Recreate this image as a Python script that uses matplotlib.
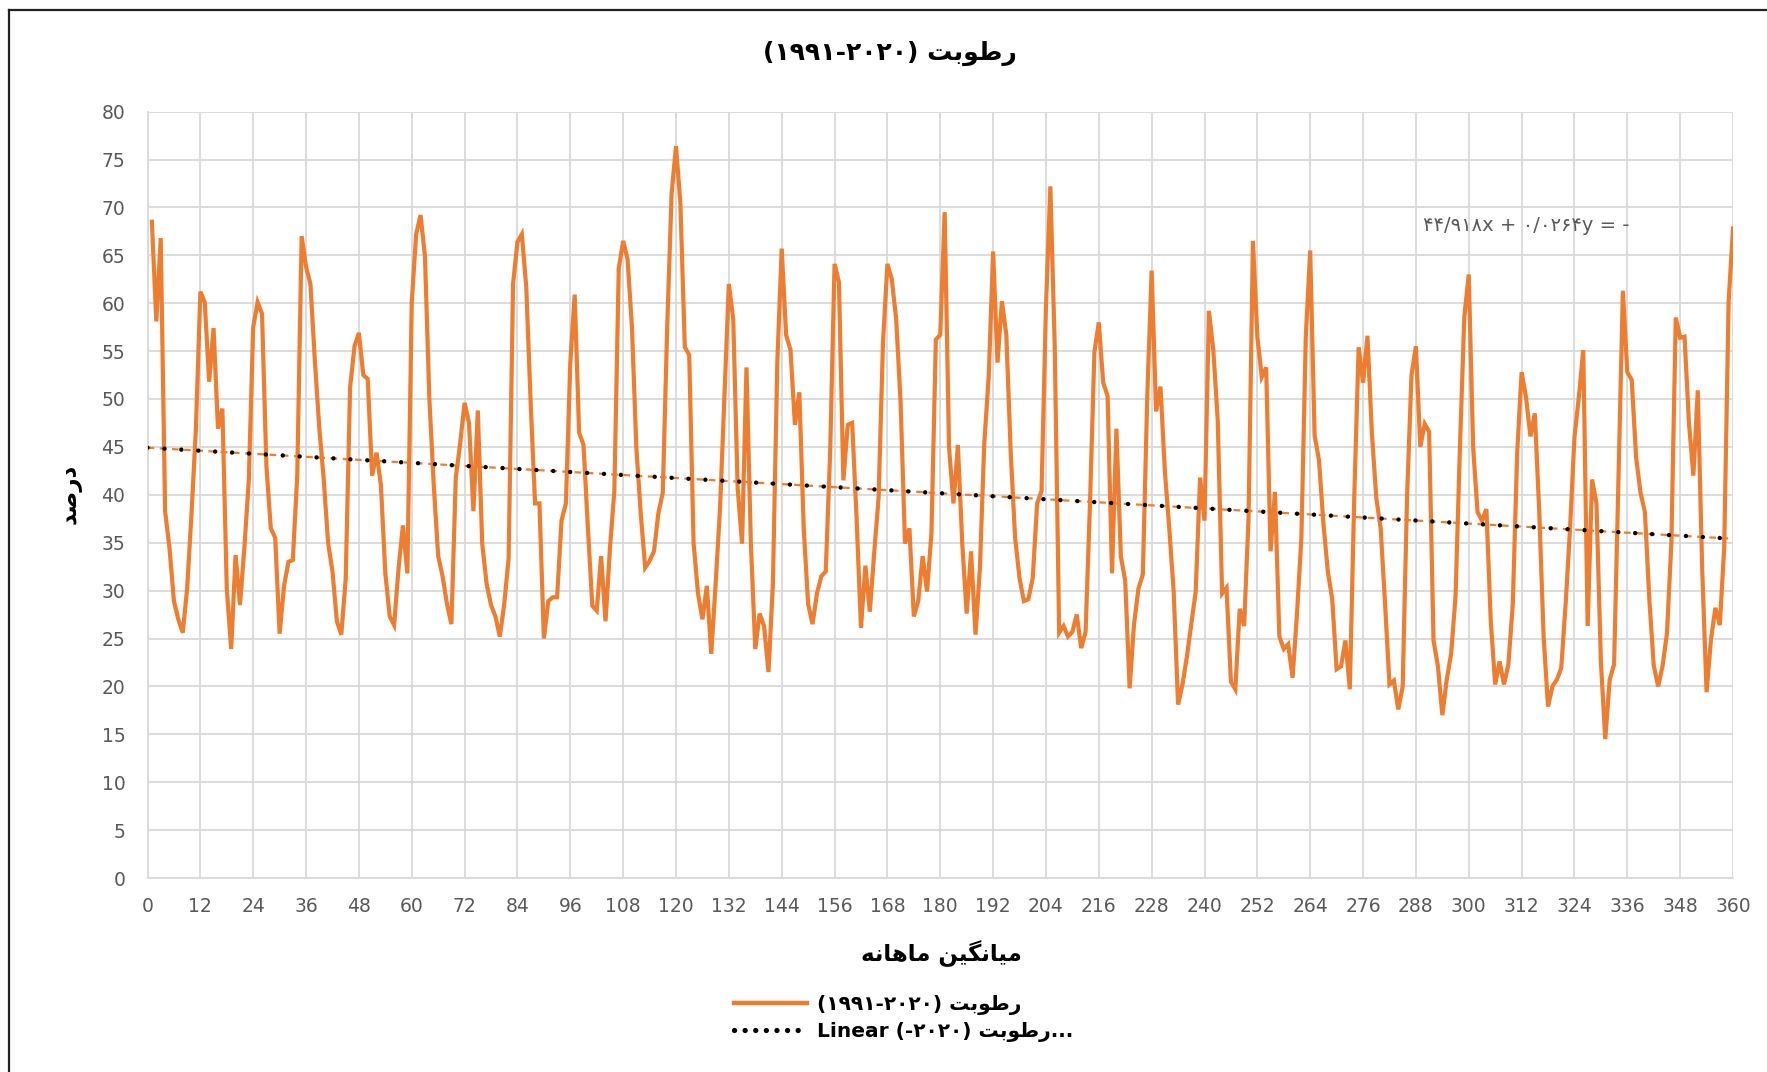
import numpy as np
import matplotlib
matplotlib.use("Agg")
import matplotlib.pyplot as plt
from matplotlib.lines import Line2D

# ---------------- data ----------------
months = list(range(1, 361))
humidity = [
    68.5, 58.1, 66.8, 38.3, 34.4, 28.9, 27.0, 25.6, 30.2, 38.1, 47.0, 61.2,
    60.1, 51.8, 57.4, 46.9, 49.0, 30.2, 23.9, 33.7, 28.5, 34.5, 41.5, 57.5,
    60.1, 58.9, 43.0, 36.5, 35.5, 25.5, 30.5, 33.0, 33.2, 42.0, 67.0, 63.8,
    62.0, 54.0, 47.0, 41.7, 35.0, 32.0, 26.8, 25.4, 31.2, 51.2, 55.5, 56.9,
    52.5, 52.1, 42.0, 44.4, 41.0, 31.8, 27.3, 26.4, 32.3, 36.8, 31.8, 60.1,
    67.2, 69.2, 64.9, 50.0, 41.0, 33.6, 31.5, 28.6, 26.5, 41.8, 45.4, 49.6,
    47.5, 38.3, 48.8, 34.9, 30.7, 28.5, 27.3, 25.2, 28.6, 33.4, 62.0, 66.4,
    67.2, 61.7, 49.6, 39.1, 39.1, 25.0, 28.9, 29.3, 29.3, 37.3, 39.1, 53.8,
    60.9, 46.5, 45.2, 36.5, 28.4, 27.9, 33.6, 26.8, 34.4, 40.4, 63.6, 66.5,
    64.6, 57.5, 44.9, 38.0, 32.4, 33.1, 34.1, 38.1, 40.2, 57.5, 71.4, 76.4,
    70.4, 55.4, 54.6, 34.9, 29.7, 27.0, 30.5, 23.4, 30.7, 38.6, 50.2, 62.0,
    58.3, 40.7, 34.9, 53.3, 34.9, 23.9, 27.6, 26.3, 21.5, 30.7, 53.8, 65.7,
    56.7, 55.1, 47.3, 50.7, 36.5, 28.6, 26.5, 29.7, 31.5, 32.0, 44.4, 64.1,
    62.2, 41.5, 47.3, 47.5, 37.6, 26.1, 32.6, 27.8, 33.9, 39.7, 55.9, 64.1,
    62.5, 58.3, 49.6, 34.9, 36.5, 27.3, 28.9, 33.6, 29.9, 36.0, 56.2, 56.7,
    69.5, 44.9, 39.1, 45.2, 34.9, 27.6, 34.1, 25.4, 32.3, 45.4, 52.3, 65.4,
    53.8, 60.2, 56.7, 44.4, 35.5, 31.3, 28.9, 29.1, 31.3, 39.1, 40.4, 59.6,
    72.2, 55.4, 25.6, 26.3, 25.2, 25.7, 27.5, 24.0, 25.7, 39.1, 54.9, 58.0,
    51.7, 50.3, 31.8, 46.9, 33.6, 31.0, 19.8, 26.5, 30.2, 31.7, 50.2, 63.4,
    48.7, 51.3, 42.5, 36.5, 29.9, 18.1, 20.2, 23.1, 26.5, 29.9, 41.8, 37.3,
    59.2, 55.1, 47.8, 29.7, 30.3, 20.5, 19.7, 28.1, 26.3, 37.6, 66.5, 56.5,
    52.3, 53.3, 34.1, 40.3, 25.2, 23.9, 24.4, 20.9, 27.6, 35.5, 56.5, 65.5,
    46.2, 43.6, 37.0, 32.0, 29.1, 21.8, 22.1, 24.8, 19.7, 39.7, 55.4, 51.7,
    56.6, 46.5, 39.7, 36.5, 28.6, 20.2, 20.6, 17.6, 20.0, 39.9, 52.5, 55.5,
    45.0, 47.4, 46.6, 24.8, 22.1, 17.0, 20.7, 23.4, 29.4, 45.0, 58.6, 63.0,
    44.9, 38.2, 37.3, 38.5, 26.8, 20.2, 22.6, 20.2, 22.3, 28.6, 44.4, 52.8,
    50.2, 46.1, 48.5, 38.3, 25.2, 17.9, 20.0, 20.7, 21.9, 28.6, 36.5, 46.0,
    50.2, 55.1, 26.3, 41.6, 39.1, 22.6, 14.5, 20.7, 22.3, 41.8, 61.3, 52.8,
    52.0, 43.9, 40.2, 38.2, 29.1, 22.2, 20.0, 22.1, 25.5, 34.9, 58.5, 56.4,
    56.5, 47.5, 42.0, 50.9, 32.3, 19.4, 24.9, 28.2, 26.4, 34.4, 60.1, 67.8,
]
trend_intercept = 44.918
trend_slope = -0.0264
x_ticks = list(range(0, 361, 12))
y_ticks = list(range(0, 81, 5))

# Persian text written in visual (left-to-right) order with presentation forms
RTOBAT = "\uFE96\uFE91\uFEEE\uFEC3\uFEAD"                      # رطوبت
DARSAD = "\uFEAA\uFEBB\uFEAD\uFEA9"                             # درصد
MIANGIN = "\uFEEA\uFEE7\uFE8E\uFEEB\uFE8E\uFEE3 \uFEE6\uFEF4\uFB95\uFEE7\uFE8E\uFEF4\uFEE3"  # میانگین ماهانه
YEARS = "(\u06F1\u06F9\u06F9\u06F1-\u06F2\u06F0\u06F2\u06F0)"
title_text = YEARS + " " + RTOBAT
series_label = YEARS + " " + RTOBAT
trend_label = "Linear (-\u06F2\u06F0\u06F2\u06F0) " + RTOBAT + "..."
eq_text = "\u06F4\u06F4/\u06F9\u06F1\u06F8x + \u06F0/\u06F0\u06F2\u06F6\u06F4y = -"

ORANGE = "#ED7D31"
GRID = "#D9D9D9"
TICKC = "#595959"

plt.rcParams['font.family'] = ['DejaVu Sans']

W, H = 1767, 1072
S = 1767 / 1568  # shrunk-to-full factor used for placing texts
fig = plt.figure(figsize=(W / 100, H / 100), dpi=100)
ax = fig.add_axes([147.5 / W, 1 - 878 / H, (1733 - 147.5) / W, (878 - 111.6) / H])

ax.plot(months, humidity, color=ORANGE, lw=3.0, solid_joinstyle='miter', zorder=3)

xt = np.array([0, 360])
yt = trend_intercept + trend_slope * xt
ax.plot(xt, yt, color=ORANGE, lw=1.6, linestyle=(0, (3, 2.5)), zorder=4)
ax.plot(xt, yt, color="black", lw=3.2, linestyle=(0, (0.01, 3.8)),
        dash_capstyle='round', zorder=5)

ax.set_xlim(0, 360)
ax.set_ylim(0, 80)
ax.set_xticks(x_ticks)
ax.set_yticks(y_ticks)
ax.grid(True, color=GRID, lw=1.3)
ax.set_axisbelow(True)
for s in ["top", "right"]:
    ax.spines[s].set_visible(False)
for s in ["left", "bottom"]:
    ax.spines[s].set_color(GRID)
    ax.spines[s].set_linewidth(1.3)
ax.tick_params(length=0, labelsize=13.5, labelcolor=TICKC)
ax.tick_params(axis='y', pad=16)
ax.tick_params(axis='x', pad=14)

fig.text(790 * S / W, 1 - 47 * S / H, title_text, ha='center', va='center',
         fontsize=18, fontweight='bold')
fig.text(835 * S / W, 1 - 846 * S / H, MIANGIN, ha='center', va='center',
         fontsize=16.5, fontweight='bold')
fig.text(62 * S / W, 1 - 438 * S / H, DARSAD, ha='center', va='center',
         rotation=90, fontsize=16.5, fontweight='bold')
fig.text(1446 * S / W, 1 - 200 * S / H, eq_text,
         ha='right', va='center', fontsize=14, color=TICKC)

handles = [
    Line2D([], [], color=ORANGE, lw=3.2),
    Line2D([], [], color="black", lw=3.8, linestyle=(0, (0.01, 2.0)),
           dash_capstyle='round'),
]
leg = fig.legend(handles, [series_label, trend_label], loc='center',
                 bbox_to_anchor=(802 * S / W, 1 - 904 * S / H), frameon=False,
                 prop={'size': 14.5, 'weight': 'bold'}, handlelength=3.6,
                 labelspacing=0.35, handletextpad=0.5)

# chart-area border (left and top visible)
fig.add_artist(Line2D([9 / W, 9 / W], [0, 1 - 10 / H], color="#222222", lw=1.6,
                      transform=fig.transFigure))
fig.add_artist(Line2D([9 / W, 1], [1 - 10 / H, 1 - 10 / H], color="#222222", lw=1.6,
                      transform=fig.transFigure))

fig.savefig("out.png", dpi=100)
